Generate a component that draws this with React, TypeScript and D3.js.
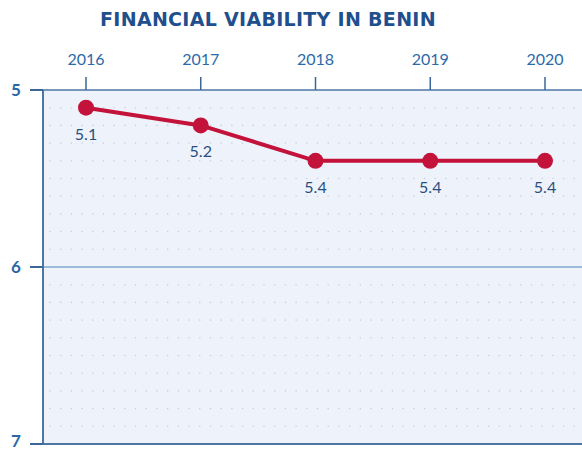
import React from "react";
import * as d3 from "d3";

const years = ["2016", "2017", "2018", "2019", "2020"];
const scores = [5.1, 5.2, 5.4, 5.4, 5.4];
const valueLabels = ["5.1", "5.2", "5.4", "5.4", "5.4"];
const yTicks = [5, 6, 7];

const W = 582;
const H = 452;

export default function App() {
  const left = 43;
  const top = 90;
  const bottom = 444;
  const x = d3.scalePoint<string>().domain(years).range([86, 545]);
  const y = d3.scaleLinear().domain([5, 7]).range([top, bottom]);
  const line = d3
    .line<number>()
    .x((_, i) => x(years[i]) as number)
    .y((d) => y(d));

  const dotRows = d3.range(5.1, 7.0, 0.1).map((v) => +v.toFixed(1)).filter((v) => Math.abs(v - 6) > 0.01);
  const dotCols = d3.range(50, W, 10.7);

  const font = "'Lato', 'Open Sans', sans-serif";

  return (
    <svg width={W} height={H} style={{ position: "absolute", left: 0, top: 0 }}>
      <rect x={0} y={0} width={W} height={H} fill="#ffffff" />
      <text x={268} y={26} textAnchor="middle" fontFamily="'DejaVu Sans', sans-serif" fontWeight={700} fontSize={19} fill="#1f4f8d" letterSpacing={0.3}>
        FINANCIAL VIABILITY IN BENIN
      </text>
      <rect x={left} y={top} width={W - left} height={bottom - top} fill="#eef3fb" />
      {dotRows.map((r) =>
        dotCols.map((c, j) => (
          <circle key={r + "-" + j} cx={c} cy={y(r)} r={0.8} fill="#c5d1e1" />
        ))
      )}
      <line x1={left} x2={W} y1={y(6)} y2={y(6)} stroke="#9dbbd9" strokeWidth={2} />
      <line x1={left} x2={W} y1={top} y2={top} stroke="#4d77a3" strokeWidth={1.5} />
      <line x1={left} x2={W} y1={bottom} y2={bottom} stroke="#4d77a3" strokeWidth={2} />
      <line x1={left} x2={left} y1={top} y2={bottom} stroke="#4d77a3" strokeWidth={2} />
      {yTicks.map((t) => (
        <g key={t}>
          <line x1={30} x2={left} y1={y(t)} y2={y(t)} stroke="#3a6797" strokeWidth={2} />
          <text x={16} y={Math.min(y(t) + 6, 447)} textAnchor="middle" fontFamily={font} fontWeight={700} fontSize={17} fill="#2a67a5">
            {t}
          </text>
        </g>
      ))}
      {years.map((yr) => (
        <g key={yr}>
          <line x1={x(yr)} x2={x(yr)} y1={77} y2={top} stroke="#3a6797" strokeWidth={1.5} />
          <text x={x(yr)} y={65} textAnchor="middle" fontFamily={font} fontSize={16} fill="#2b6aa8">
            {yr}
          </text>
        </g>
      ))}
      <path d={line(scores) || ""} fill="none" stroke="#c3133b" strokeWidth={4} />
      {scores.map((s, i) => (
        <g key={i}>
          <circle cx={x(years[i])} cy={y(s)} r={8} fill="#c3133b" />
          <text x={x(years[i])} y={y(s) + 32} textAnchor="middle" fontFamily={font} fontSize={16} fill="#2a4f7f">
            {valueLabels[i]}
          </text>
        </g>
      ))}
    </svg>
  );
}
